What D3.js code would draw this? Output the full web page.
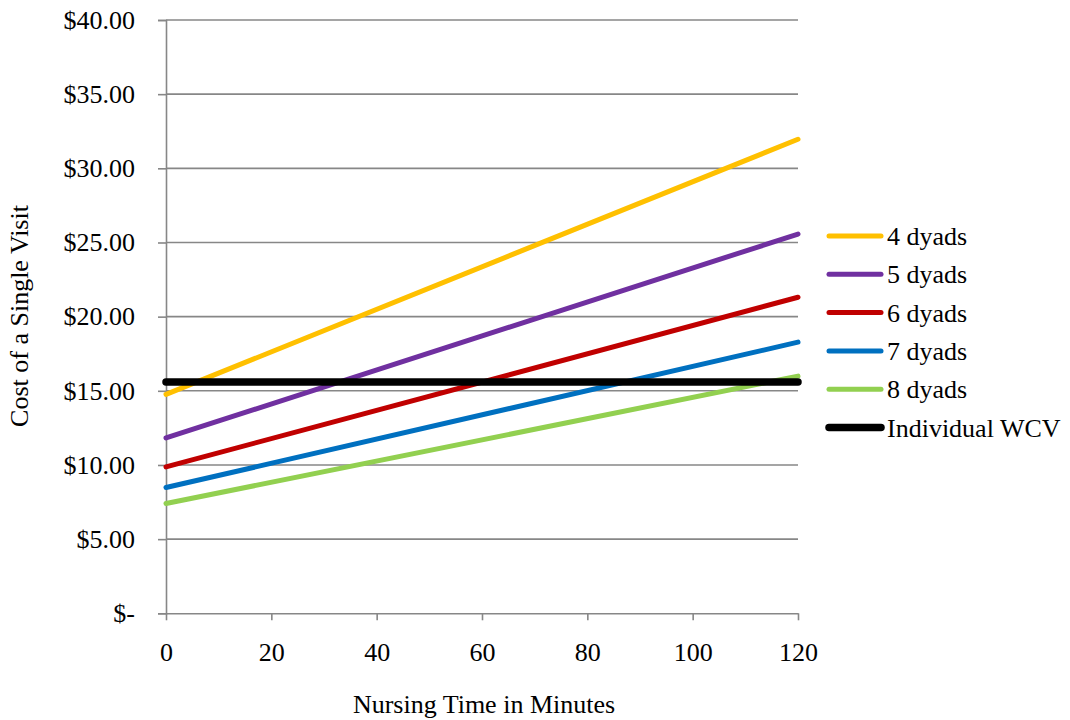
<!DOCTYPE html>
<html><head><meta charset="utf-8">
<script src="https://cdn.jsdelivr.net/npm/d3@7"></script>
<style>body{margin:0;background:#fff}text{font-family:"Liberation Serif","Times New Roman",serif;fill:#000}</style>
</head><body><svg id="c" width="1070" height="720"></svg>
<script>
const minutes = [0, 120];
const xTicks = [0, 20, 40, 60, 80, 100, 120];
const yTicks = [0, 5, 10, 15, 20, 25, 30, 35, 40];
const seriesNames = ["4 dyads", "5 dyads", "6 dyads", "7 dyads", "8 dyads", "Individual WCV"];
const dyads4 = [14.76, 31.96];
const dyads5 = [11.82, 25.57];
const dyads6 = [9.87, 21.31];
const dyads7 = [8.48, 18.28];
const dyads8 = [7.40, 15.99];
const individualWCV = [15.59, 15.59];
const colors = ["#FFC000", "#7030A0", "#C00000", "#0070C0", "#92D050", "#000000"];

const allSeries = [dyads4, dyads5, dyads6, dyads7, dyads8, individualWCV];
const svg = d3.select("#c");
const x = d3.scaleLinear().domain([0, 120]).range([166, 798]);
const y = d3.scaleLinear().domain([0, 40]).range([613.3, 20]);
const grid = "#878787";
const fs = "26px";

// gridlines
svg.append("g").selectAll("line").data(yTicks.filter(d => d > 0)).join("line")
  .attr("x1", 166).attr("x2", 798).attr("y1", d => y(d)).attr("y2", d => y(d))
  .attr("stroke", grid).attr("stroke-width", 1.6);

// y axis
const yAxis = d3.axisLeft(y).tickValues(yTicks).tickSize(8).tickPadding(23)
  .tickFormat(d => d === 0 ? "$-" : "$" + d3.format(".2f")(d));
const gy = svg.append("g").attr("transform", "translate(166,0)").call(yAxis);
gy.select(".domain").attr("stroke", grid).attr("stroke-width", 1.6);
gy.selectAll(".tick line").attr("stroke", grid).attr("stroke-width", 1.6);
gy.selectAll(".tick text").style("font-size", fs).attr("fill", "#000");

// x axis
const xAxis = d3.axisBottom(x).tickValues(xTicks).tickSize(7).tickPadding(22).tickSizeOuter(0);
const gx = svg.append("g").attr("transform", "translate(0,613.3)").call(xAxis);
gx.select(".domain").attr("stroke", grid).attr("stroke-width", 1.6);
gx.selectAll(".tick line").attr("stroke", grid).attr("stroke-width", 1.6);
gx.selectAll(".tick text").style("font-size", fs).attr("fill", "#000");

// series
const line = d3.line().x((d, i) => x(minutes[i])).y(d => y(d));
allSeries.forEach((s, i) => {
  svg.append("path").datum(s).attr("d", line).attr("fill", "none")
    .attr("stroke", colors[i]).attr("stroke-width", i === 5 ? 7.5 : 5)
    .attr("stroke-linecap", "round");
});

// legend
const lg = svg.append("g");
seriesNames.forEach((n, i) => {
  const ly = 236 + i * 38.3;
  lg.append("line").attr("x1", 829).attr("x2", 881).attr("y1", ly).attr("y2", ly)
    .attr("stroke", colors[i]).attr("stroke-width", i === 5 ? 7.5 : 5).attr("stroke-linecap", "round");
  lg.append("text").attr("x", 887).attr("y", ly + 9).style("font-size", fs).text(n);
});

// axis titles
svg.append("text").attr("transform", "translate(28,316) rotate(-90)").attr("text-anchor", "middle")
  .style("font-size", fs).text("Cost of a Single Visit");
svg.append("text").attr("x", 484).attr("y", 713).attr("text-anchor", "middle")
  .style("font-size", fs).text("Nursing Time in Minutes");
</script></body></html>
